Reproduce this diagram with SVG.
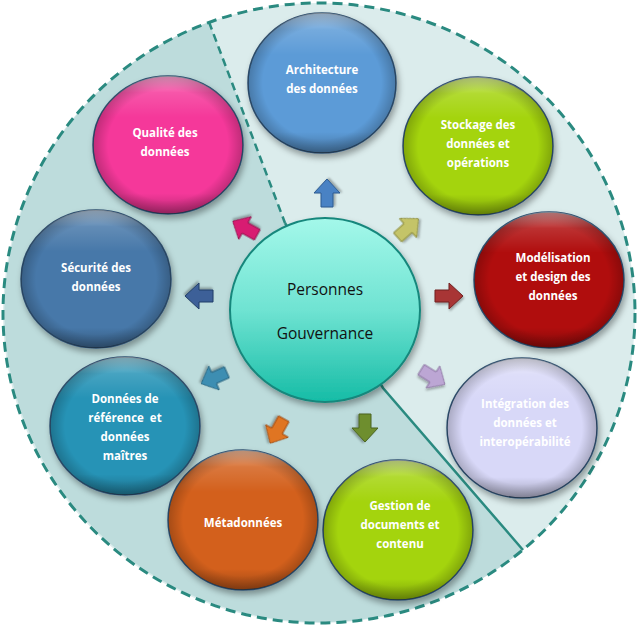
<svg xmlns="http://www.w3.org/2000/svg" width="641" height="628" viewBox="0 0 641 628">
<defs>
<style>
.nt{font-family:"Open Sans","Liberation Sans",sans-serif;font-weight:bold;font-size:11.5px;fill:#ffffff;text-anchor:middle}
.ct{font-family:"Open Sans","Liberation Sans",sans-serif;font-size:15.5px;fill:#111111;text-anchor:middle}
.node{stroke:#2f4f6f;stroke-width:1.5;filter:url(#sh)}
.arr{stroke-width:1;filter:url(#ash)}
</style>
<filter id="sh" x="-20%" y="-20%" width="140%" height="140%">
<feDropShadow dx="2" dy="4" stdDeviation="3" flood-color="#000" flood-opacity="0.35"/>
</filter>
<filter id="ash" x="-30%" y="-30%" width="160%" height="160%">
<feDropShadow dx="1" dy="2" stdDeviation="1" flood-color="#000" flood-opacity="0.3"/>
</filter>
<linearGradient id="hl" x1="0" y1="0" x2="0" y2="1">
<stop offset="0" stop-color="#fff" stop-opacity="0.55"/>
<stop offset="0.12" stop-color="#fff" stop-opacity="0.15"/>
<stop offset="0.3" stop-color="#fff" stop-opacity="0"/>
<stop offset="0.85" stop-color="#000" stop-opacity="0"/>
<stop offset="1" stop-color="#000" stop-opacity="0.25"/>
</linearGradient>
<radialGradient id="edge" cx="0.5" cy="0.5" r="0.5">
<stop offset="0.8" stop-color="#000" stop-opacity="0"/>
<stop offset="1" stop-color="#000" stop-opacity="0.22"/>
</radialGradient>
<linearGradient id="cg" x1="0" y1="0" x2="0" y2="1">
<stop offset="0" stop-color="#a4f8ea"/>
<stop offset="0.5" stop-color="#6fe3d2"/>
<stop offset="1" stop-color="#16bca6"/>
</linearGradient>
<path id="ar" d="M-14,-6 L0,-6 L0,-13 L14,0 L0,13 L0,6 L-14,6 Z"/>
</defs>

<!-- background regions -->
<ellipse cx="319" cy="313" rx="316" ry="310" fill="#dbecec"/>
<path d="M209,22 A316,310 0 1,0 523,550 L383,388 L285,223 Z" fill="#bddcdc"/>
<ellipse cx="319" cy="313" rx="316" ry="310" fill="none" stroke="#2a8a80" stroke-width="3" stroke-dasharray="10 6"/>
<path d="M209,22 L285,223" fill="none" stroke="#2a8a80" stroke-width="2.5" stroke-dasharray="8 5"/>
<path d="M285,223 L383,388 L523,550" fill="none" stroke="#2a8a80" stroke-width="2.5"/>

<!-- connectors (arrows) -->
<g id="connectors">
<use href="#ar" class="arr" fill="#4a82c4" stroke="#2c5a90" transform="translate(327,193) rotate(-90)"/>
<use href="#ar" class="arr" fill="#c4c468" stroke="#8a8a3a" transform="translate(408,228) rotate(-42)"/>
<use href="#ar" class="arr" fill="#a83636" stroke="#702020" transform="translate(449,296) rotate(0)"/>
<use href="#ar" class="arr" fill="#bca6d4" stroke="#8a72a0" transform="translate(433,377) rotate(32)"/>
<use href="#ar" class="arr" fill="#6e8e2e" stroke="#4a6420" transform="translate(365,428) rotate(90)"/>
<use href="#ar" class="arr" fill="#e07420" stroke="#a04a10" transform="translate(277,431) rotate(119)"/>
<use href="#ar" class="arr" fill="#3c8eb2" stroke="#24607c" transform="translate(214,378) rotate(156)"/>
<use href="#ar" class="arr" fill="#3c6198" stroke="#233f68" transform="translate(199,296) rotate(180)"/>
<use href="#ar" class="arr" fill="#d81a72" stroke="#900e4a" transform="translate(245,228) rotate(209)"/>
</g>

<!-- center -->
<g id="center">
<ellipse cx="325" cy="310" rx="95" ry="92" fill="url(#cg)" stroke="#17877c" stroke-width="2" filter="url(#sh)"/>
<text class="ct" x="325" y="295">Personnes</text>
<text class="ct" x="325" y="339">Gouvernance</text>
</g>

<g id="architecture">
<ellipse class="node" cx="322" cy="83" rx="74" ry="70" fill="#5b9bd7"/>
<ellipse cx="322" cy="83" rx="74" ry="70" fill="url(#hl)"/>
<ellipse cx="322" cy="83" rx="74" ry="70" fill="url(#edge)"/>
<text class="nt" x="322" y="74">Architecture</text>
<text class="nt" x="322" y="93">des données</text>
</g>

<g id="stockage">
<ellipse class="node" cx="478" cy="146" rx="75" ry="69" fill="#a4d40a"/>
<ellipse cx="478" cy="146" rx="75" ry="69" fill="url(#hl)"/>
<ellipse cx="478" cy="146" rx="75" ry="69" fill="url(#edge)"/>
<text class="nt" x="478" y="129">Stockage des</text>
<text class="nt" x="478" y="148">données et</text>
<text class="nt" x="478" y="167">opérations</text>
</g>

<g id="modelisation">
<ellipse class="node" cx="549" cy="280" rx="75" ry="68" fill="#b00a0a"/>
<ellipse cx="549" cy="280" rx="75" ry="68" fill="url(#hl)"/>
<ellipse cx="549" cy="280" rx="75" ry="68" fill="url(#edge)"/>
<text class="nt" x="553" y="262">Modélisation</text>
<text class="nt" x="553" y="281">et design des</text>
<text class="nt" x="553" y="300">données</text>
</g>

<g id="integration">
<ellipse class="node" cx="522" cy="428" rx="75" ry="70" fill="#d8d8f8"/>
<ellipse cx="522" cy="428" rx="75" ry="70" fill="url(#hl)"/>
<ellipse cx="522" cy="428" rx="75" ry="70" fill="url(#edge)"/>
<text class="nt" x="525" y="408">Intégration des</text>
<text class="nt" x="525" y="427">données et</text>
<text class="nt" x="525" y="446">interopérabilité</text>
</g>

<g id="gestion">
<ellipse class="node" cx="398" cy="530" rx="75" ry="70" fill="#a4d40a"/>
<ellipse cx="398" cy="530" rx="75" ry="70" fill="url(#hl)"/>
<ellipse cx="398" cy="530" rx="75" ry="70" fill="url(#edge)"/>
<text class="nt" x="400" y="510">Gestion de</text>
<text class="nt" x="400" y="529">documents et</text>
<text class="nt" x="400" y="548">contenu</text>
</g>

<g id="metadonnees">
<ellipse class="node" cx="243" cy="520" rx="75" ry="70" fill="#d3611a"/>
<ellipse cx="243" cy="520" rx="75" ry="70" fill="url(#hl)"/>
<ellipse cx="243" cy="520" rx="75" ry="70" fill="url(#edge)"/>
<text class="nt" x="243" y="527">Métadonnées</text>
</g>

<g id="reference">
<ellipse class="node" cx="125" cy="426" rx="75" ry="69" fill="#2593b6"/>
<ellipse cx="125" cy="426" rx="75" ry="69" fill="url(#hl)"/>
<ellipse cx="125" cy="426" rx="75" ry="69" fill="url(#edge)"/>
<text class="nt" x="125" y="403">Données de</text>
<text class="nt" x="125" y="422" xml:space="preserve">référence  et</text>
<text class="nt" x="125" y="441">données</text>
<text class="nt" x="125" y="460">maîtres</text>
</g>

<g id="securite">
<ellipse class="node" cx="96" cy="279" rx="75" ry="69" fill="#4778a9"/>
<ellipse cx="96" cy="279" rx="75" ry="69" fill="url(#hl)"/>
<ellipse cx="96" cy="279" rx="75" ry="69" fill="url(#edge)"/>
<text class="nt" x="96" y="272">Sécurité des</text>
<text class="nt" x="96" y="291">données</text>
</g>

<g id="qualite">
<ellipse class="node" cx="168" cy="145" rx="75" ry="69" fill="#f5399a"/>
<ellipse cx="168" cy="145" rx="75" ry="69" fill="url(#hl)"/>
<ellipse cx="168" cy="145" rx="75" ry="69" fill="url(#edge)"/>
<text class="nt" x="165" y="137">Qualité des</text>
<text class="nt" x="165" y="156">données</text>
</g>
</svg>
